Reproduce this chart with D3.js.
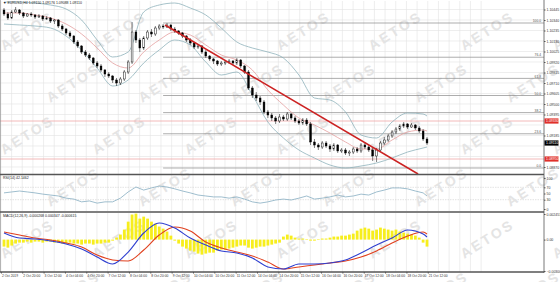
<!DOCTYPE html>
<html>
<head>
<meta charset="utf-8">
<script src="https://cdn.jsdelivr.net/npm/d3@7"></script>
<style>
  body { margin: 0; background: #fff; }
  svg { display: block; font-family: "Liberation Sans", Arial, sans-serif; }
</style>
</head>
<body>
<div id="chart"></div>
<script>
// EURUSD H4 candles: [open, high, low, close]
var candles = [
  [1.1044,1.1046,1.1038,1.1040],[1.1040,1.1042,1.1034,1.1036],[1.1036,1.1044,1.1035,1.1042],[1.1042,1.1047,1.1041,1.1044],
  [1.1044,1.1045,1.1039,1.1041],[1.1041,1.1042,1.1036,1.1038],[1.1038,1.1041,1.1037,1.1040],[1.1040,1.1042,1.1037,1.1039],
  [1.1039,1.1040,1.1035,1.1037],[1.1037,1.1040,1.1036,1.1038],[1.1038,1.1039,1.1033,1.1035],[1.1035,1.1038,1.1034,1.1036],
  [1.1036,1.1037,1.1031,1.1033],[1.1033,1.1035,1.1030,1.1034],[1.1034,1.1035,1.1026,1.1028],[1.1028,1.1030,1.1023,1.1025],
  [1.1025,1.1026,1.1019,1.1021],[1.1021,1.1023,1.1016,1.1018],[1.1018,1.1019,1.1010,1.1012],[1.1012,1.1014,1.1006,1.1008],
  [1.1008,1.1009,1.1000,1.1002],[1.1002,1.1004,1.0997,1.0999],[1.0999,1.1001,1.0994,1.0996],[1.0996,1.0997,1.0989,1.0991],
  [1.0991,1.0993,1.0986,1.0988],[1.0988,1.0990,1.0982,1.0984],[1.0984,1.0985,1.0977,1.0980],[1.0980,1.0982,1.0976,1.0978],
  [1.0978,1.0979,1.0971,1.0974],[1.0974,1.0976,1.0968,1.0971],[1.0971,1.0977,1.0969,1.0975],[1.0975,1.0984,1.0973,1.0982],
  [1.0982,1.0994,1.0980,1.0992],[1.0992,1.1032,1.0990,1.1022],[1.1022,1.1024,1.1011,1.1014],[1.1014,1.1016,1.1002,1.1006],
  [1.1006,1.1018,1.1004,1.1016],[1.1016,1.1024,1.1014,1.1022],[1.1022,1.1025,1.1017,1.1020],[1.1020,1.1028,1.1018,1.1026],
  [1.1026,1.1030,1.1024,1.1028],[1.1028,1.1030,1.1025,1.1027],[1.1027,1.1031,1.1026,1.1029],[1.1029,1.1030,1.1023,1.1025],
  [1.1025,1.1027,1.1021,1.1023],[1.1023,1.1024,1.1019,1.1021],[1.1021,1.1022,1.1016,1.1018],[1.1018,1.1019,1.1012,1.1014],
  [1.1014,1.1016,1.1009,1.1011],[1.1011,1.1012,1.1005,1.1007],[1.1007,1.1010,1.1005,1.1008],[1.1008,1.1009,1.1000,1.1002],
  [1.1002,1.1004,1.0996,1.0998],[1.0998,1.0999,1.0993,1.0995],[1.0995,1.0996,1.0990,1.0993],[1.0993,1.0994,1.0988,1.0990],
  [1.0990,1.0993,1.0988,1.0991],[1.0991,1.0994,1.0989,1.0992],[1.0992,1.0995,1.0990,1.0993],[1.0993,1.0994,1.0989,1.0991],
  [1.0991,1.0996,1.0989,1.0994],[1.0994,1.0995,1.0986,1.0988],[1.0988,1.0989,1.0980,1.0982],[1.0982,1.0984,1.0964,1.0966],
  [1.0966,1.0968,1.0956,1.0959],[1.0959,1.0962,1.0953,1.0956],[1.0956,1.0958,1.0949,1.0952],[1.0952,1.0954,1.0940,1.0942],
  [1.0942,1.0944,1.0936,1.0939],[1.0939,1.0941,1.0933,1.0936],[1.0936,1.0938,1.0930,1.0933],[1.0933,1.0940,1.0931,1.0937],
  [1.0937,1.0939,1.0933,1.0935],[1.0935,1.0942,1.0933,1.0940],[1.0940,1.0941,1.0934,1.0936],[1.0936,1.0938,1.0931,1.0933],
  [1.0933,1.0935,1.0929,1.0931],[1.0931,1.0936,1.0929,1.0934],[1.0934,1.0936,1.0928,1.0930],[1.0930,1.0932,1.0909,1.0912],
  [1.0912,1.0915,1.0906,1.0909],[1.0909,1.0911,1.0904,1.0907],[1.0907,1.0913,1.0905,1.0911],[1.0911,1.0913,1.0906,1.0908],
  [1.0908,1.0910,1.0902,1.0905],[1.0905,1.0911,1.0903,1.0909],[1.0909,1.0910,1.0901,1.0903],[1.0903,1.0906,1.0901,1.0904],
  [1.0904,1.0906,1.0899,1.0901],[1.0901,1.0904,1.0898,1.0902],[1.0902,1.0907,1.0900,1.0905],[1.0905,1.0907,1.0901,1.0903],
  [1.0903,1.0911,1.0901,1.0909],[1.0909,1.0912,1.0905,1.0907],[1.0907,1.0909,1.0902,1.0904],[1.0904,1.0906,1.0893,1.0898],
  [1.0898,1.0906,1.0892,1.0904],[1.0904,1.0913,1.0902,1.0911],[1.0911,1.0917,1.0909,1.0914],[1.0914,1.0920,1.0912,1.0918],
  [1.0918,1.0924,1.0916,1.0922],[1.0922,1.0927,1.0920,1.0925],[1.0925,1.0930,1.0923,1.0928],[1.0928,1.0932,1.0926,1.0930],
  [1.0930,1.0931,1.0925,1.0927],[1.0927,1.0931,1.0926,1.0929],[1.0929,1.0930,1.0924,1.0926],[1.0926,1.0928,1.0921,1.0923],
  [1.0923,1.0925,1.0913,1.0915],[1.0915,1.0917,1.0909,1.0911]
];

// Bollinger bands, read every 4th bar
var bbIdx = [0,4,8,12,16,20,24,28,32,36,40,44,48,52,56,60,64,68,72,76,80,84,88,92,96,100,104,108,109];
var bbUpper = [1.1052,1.1052,1.1051,1.1049,1.1045,1.1034,1.1014,1.0997,1.1002,1.1042,1.1049,1.1051,1.1046,1.1039,1.1026,1.1012,1.1006,1.1002,1.0996,1.0979,1.0956,1.0954,1.0942,1.0919,1.0916,1.0932,1.0941,1.0940,1.0938];
var bbMiddle = [1.1041,1.1041,1.1039,1.1036,1.1030,1.1020,1.1006,1.0991,1.0986,1.1002,1.1014,1.1022,1.1019,1.1009,1.0999,1.0994,1.0984,1.0964,1.0949,1.0936,1.0929,1.0921,1.0912,1.0905,1.0905,1.0914,1.0922,1.0924,1.0923];
var bbLower = [1.1030,1.1029,1.1028,1.1026,1.1018,1.1004,1.0986,1.0968,1.0974,1.0991,1.1004,1.1014,1.1009,1.0992,1.0979,1.0982,1.0959,1.0932,1.0916,1.0904,1.0896,1.0889,1.0886,1.0888,1.0891,1.0896,1.0902,1.0906,1.0907];

// trend line and fibonacci retracement
var trendLine = [[41.5, 1.1029], [106.7, 1.0880]];
var fibStart = 41;
var fibHigh = 1.1031, fibLow = 1.0886;
var fibLevels = [0, 23.6, 38.2, 50.0, 61.8, 76.4, 100.0];
var levelLines = [1.0933, 1.0895];

var priceTicks = [1.10445,1.10340,1.10235,1.10130,1.10025,1.09920,1.09815,1.09710,1.09605,1.09500,1.09395,1.09290,1.09185,1.09080,1.08975,1.08870];

// RSI(14), every 2nd bar
var rsiIdx = [0,2,4,6,8,10,12,14,16,18,20,22,24,26,28,30,32,34,36,38,40,42,44,46,48,50,52,54,56,58,60,62,64,66,68,70,72,74,76,78,80,82,84,86,88,90,92,94,96,98,100,102,104,106,108,109];
var rsiValues = [52,55,58,55,52,48,45,42,35,32,23,26,19,23,23,35,55,71,61,68,74,71,65,58,52,45,42,39,39,35,39,32,23,19,23,29,32,29,35,42,32,35,39,45,39,42,48,45,55,61,68,68,65,58,52,42];
var rsiTicks = [0, 30, 50, 70, 100];

// MACD histogram per bar, lines every 4th bar
var macdHist = [
  -0.00067,-0.00077,-0.00057,-0.00038,-0.00029,-0.00029,-0.00019,-0.00029,-0.00019,-0.00019,
  -0.00029,-0.00019,-0.00019,-0.00029,-0.00029,-0.00038,-0.00038,-0.00029,-0.00038,-0.00038,
  -0.00048,-0.00038,-0.00038,-0.00048,-0.00038,-0.00038,-0.00029,-0.00029,-0.00010,0.00019,
  0.00048,0.00096,0.00172,0.00240,0.00249,0.00201,0.00220,0.00201,0.00172,0.00153,
  0.00125,0.00105,0.00077,0.00038,-0.00010,-0.00038,-0.00067,-0.00086,-0.00105,-0.00115,
  -0.00134,-0.00144,-0.00134,-0.00125,-0.00125,-0.00105,-0.00096,-0.00096,-0.00086,-0.00077,
  -0.00067,-0.00057,-0.00057,-0.00077,-0.00086,-0.00077,-0.00067,-0.00067,-0.00057,-0.00048,
  -0.00038,-0.00029,0.00029,0.00048,0.00038,0.00019,0.00010,0.00010,0.00005,-0.00010,
  -0.00010,0.00005,0.00010,0.00010,0.00019,0.00029,0.00029,0.00038,0.00038,0.00048,
  0.00057,0.00086,0.00105,0.00115,0.00105,0.00086,0.00096,0.00115,0.00105,0.00096,
  0.00086,0.00096,0.00077,0.00067,0.00057,0.00048,0.00038,0.00019,-0.00029,-0.00067
];
var macdIdx = bbIdx;
var macdBlue = [0.00063,0.00015,0.00006,-0.00013,-0.00042,-0.00090,-0.00167,-0.00234,-0.00119,0.00063,0.00159,0.00111,0.00015,-0.00052,-0.00109,-0.00128,-0.00176,-0.00262,-0.00282,-0.00234,-0.00234,-0.00224,-0.00195,-0.00128,-0.00052,0.00015,0.00092,0.00054,0.00025];
var macdRed = [0.00073,0.00044,0.00015,-0.00004,-0.00033,-0.00071,-0.00148,-0.00195,-0.00205,-0.00100,0.00044,0.00121,0.00082,-0.00023,-0.00080,-0.00119,-0.00157,-0.00215,-0.00282,-0.00262,-0.00243,-0.00224,-0.00205,-0.00167,-0.00109,-0.00033,0.00034,0.00073,0.00054];
var macdTicks = [-0.003009, 0, 0.002453];

var timeLabels = ["2 Oct 2019","2 Oct 20:00","3 Oct 12:00","4 Oct 04:00","4 Oct 20:00","7 Oct 12:00","8 Oct 04:00",
  "8 Oct 20:00","9 Oct 12:00","10 Oct 04:00","10 Oct 20:00","11 Oct 12:00","14 Oct 04:00","14 Oct 20:00",
  "15 Oct 12:00","16 Oct 04:00","16 Oct 20:00","17 Oct 12:00","18 Oct 04:00","18 Oct 20:00","21 Oct 12:00"];

// layout
var svgWidth = 560, svgHeight = 282;
var plotRight = 544;
var mainTop = 1, mainBottom = 174;
var rsiTop = 175, rsiBottom = 211;
var macdTop = 213, macdBottom = 272;
var fs = 3.5;

var svg = d3.select("#chart").append("svg")
  .attr("width", svgWidth)
  .attr("height", svgHeight);

var x = d3.scaleLinear().domain([0, candles.length - 1]).range([4, 427]);
var yPrice = d3.scaleLinear().domain([1.0880, 1.1052]).range([mainBottom, 2]);
var yRsi = d3.scaleLinear().domain([0, 100]).range([209, 178]);
var yMacd = d3.scaleLinear().domain([-0.003009, 0.002453]).range([271, 214]);

var defs = svg.append("defs");
[["clipMain", mainTop, mainBottom], ["clipRsi", rsiTop, rsiBottom], ["clipMacd", macdTop, macdBottom]].forEach(function(c) {
  defs.append("clipPath").attr("id", c[0]).append("rect")
    .attr("x", 0).attr("y", c[1]).attr("width", plotRight).attr("height", c[2] - c[1]);
});

// grid
var grid = svg.append("g").attr("stroke", "#e3e3e3").attr("stroke-width", 0.6);
var vGrid = d3.range(0, 2 * timeLabels.length + 4).map(k => k * 2.75 - 0.8);
vGrid.forEach(function(i) {
  var gx = x(i);
  if (gx > plotRight) return;
  [[mainTop, mainBottom], [rsiTop, rsiBottom], [macdTop, macdBottom]].forEach(function(p) {
    grid.append("line").attr("x1", gx).attr("x2", gx).attr("y1", p[0]).attr("y2", p[1]);
  });
});
priceTicks.forEach(function(v) {
  grid.append("line").attr("x1", 0).attr("x2", plotRight).attr("y1", yPrice(v)).attr("y2", yPrice(v));
});
[30, 70].forEach(function(v) {
  grid.append("line").attr("x1", 0).attr("x2", plotRight).attr("y1", yRsi(v)).attr("y2", yRsi(v))
    .attr("stroke", "#d0d0d0").attr("stroke-dasharray", "1.5,1");
});

// watermark
var wm = svg.append("g").attr("fill", "#e4e4e4").attr("font-size", 14).attr("font-weight", "bold")
  .attr("letter-spacing", 2.5).attr("text-anchor", "middle");
for (var r = 0; r < 6; r++) {
  for (var c = 0; c < 7; c++) {
    wm.append("text")
      .attr("transform", `translate(${30 + c * 92 + (r % 2) * 46}, ${35 + r * 52}) rotate(-32)`)
      .text("AETOS");
  }
}

// main panel
var mainG = svg.append("g").attr("clip-path", "url(#clipMain)");

// level lines
mainG.selectAll(".level").data(levelLines).enter().append("line")
  .attr("x1", 0).attr("x2", plotRight)
  .attr("y1", d => yPrice(d)).attr("y2", d => yPrice(d))
  .attr("stroke", "#f0a8a8").attr("stroke-width", 0.8);

// fibonacci
mainG.selectAll(".fib").data(fibLevels).enter().append("line")
  .attr("x1", x(fibStart)).attr("x2", plotRight)
  .attr("y1", d => yPrice(fibLow + (fibHigh - fibLow) * d / 100))
  .attr("y2", d => yPrice(fibLow + (fibHigh - fibLow) * d / 100))
  .attr("stroke", "#8a8a8a").attr("stroke-width", 0.7);
mainG.selectAll(".fibLabel").data(fibLevels).enter().append("text")
  .attr("x", plotRight - 3)
  .attr("y", d => yPrice(fibLow + (fibHigh - fibLow) * d / 100) - 0.8)
  .attr("text-anchor", "end").attr("font-size", 3.3).attr("fill", "#555")
  .text(d => d.toFixed(1));

// bollinger bands
var bandLine = d3.line()
  .x((d, k) => x(bbIdx[k]))
  .y(d => yPrice(d))
  .curve(d3.curveMonotoneX);
mainG.append("path").attr("d", bandLine(bbUpper)).attr("fill", "none").attr("stroke", "#8fb3bb").attr("stroke-width", 0.8);
mainG.append("path").attr("d", bandLine(bbLower)).attr("fill", "none").attr("stroke", "#8fb3bb").attr("stroke-width", 0.8);
mainG.append("path").attr("d", bandLine(bbMiddle)).attr("fill", "none").attr("stroke", "#e5a0a0").attr("stroke-width", 0.8);

// candles
var candleG = mainG.append("g");
candleG.selectAll(".wick").data(candles).enter().append("line")
  .attr("x1", (d, i) => x(i)).attr("x2", (d, i) => x(i))
  .attr("y1", d => yPrice(d[1])).attr("y2", d => yPrice(d[2]))
  .attr("stroke", "#000").attr("stroke-width", 0.5);
candleG.selectAll(".body").data(candles).enter().append("rect")
  .attr("x", (d, i) => x(i) - 0.9)
  .attr("width", 1.8)
  .attr("y", d => yPrice(Math.max(d[0], d[3])))
  .attr("height", d => Math.max(0.5, Math.abs(yPrice(d[0]) - yPrice(d[3]))))
  .attr("fill", d => d[3] >= d[0] ? "#fff" : "#000")
  .attr("stroke", "#000").attr("stroke-width", 0.45);

// trend line
mainG.append("line")
  .attr("x1", x(trendLine[0][0])).attr("y1", yPrice(trendLine[0][1]))
  .attr("x2", x(trendLine[1][0])).attr("y2", yPrice(trendLine[1][1]))
  .attr("stroke", "#cc2222").attr("stroke-width", 1.6);

// RSI panel
var rsiLine = d3.line().x((d, k) => x(rsiIdx[k])).y(d => yRsi(d));
svg.append("g").attr("clip-path", "url(#clipRsi)")
  .append("path").attr("d", rsiLine(rsiValues))
  .attr("fill", "none").attr("stroke", "#86adc2").attr("stroke-width", 0.8);

// MACD panel
var macdG = svg.append("g").attr("clip-path", "url(#clipMacd)");
macdG.selectAll(".hist").data(macdHist).enter().append("rect")
  .attr("x", (d, i) => x(i) - 1.4)
  .attr("width", 2.8)
  .attr("y", d => yMacd(Math.max(0, d)))
  .attr("height", d => Math.abs(yMacd(d) - yMacd(0)))
  .attr("fill", "#f7ee1c");
var macdLine = d3.line().x((d, k) => x(macdIdx[k])).y(d => yMacd(d)).curve(d3.curveMonotoneX);
macdG.append("path").attr("d", macdLine(macdRed)).attr("fill", "none").attr("stroke", "#e0401e").attr("stroke-width", 1.1);
macdG.append("path").attr("d", macdLine(macdBlue)).attr("fill", "none").attr("stroke", "#2f3fd0").attr("stroke-width", 1.1);

// panel frames
var frame = svg.append("g").attr("fill", "none");
frame.append("line").attr("x1", 0.5).attr("x2", 0.5).attr("y1", 0).attr("y2", macdBottom).attr("stroke", "#888").attr("stroke-width", 0.6);
frame.append("line").attr("x1", plotRight).attr("x2", plotRight).attr("y1", 0).attr("y2", macdBottom + 1).attr("stroke", "#555").attr("stroke-width", 0.8);
[mainBottom + 0.5, rsiBottom + 1, macdBottom].forEach(function(yy) {
  frame.append("line").attr("x1", 0).attr("x2", plotRight).attr("y1", yy).attr("y2", yy)
    .attr("stroke", "#555").attr("stroke-width", 1.6);
});

// price markers on axis (they cover the nearby tick labels)
var markers = levelLines.map(v => ({ v: v, color: "#e0302a" }))
  .concat([{ v: candles[candles.length - 1][3], color: "#000" }]);
var hidden = priceTicks.filter(t => markers.some(m => Math.abs(yPrice(t) - yPrice(m.v)) < 4.5));

// axes
var priceAxis = svg.append("g")
  .attr("transform", `translate(${plotRight}, 0)`)
  .call(d3.axisRight(yPrice).tickValues(priceTicks.filter(t => hidden.indexOf(t) < 0))
    .tickSize(1.5).tickFormat(d3.format(".5f")));
var rsiAxis = svg.append("g")
  .attr("transform", `translate(${plotRight}, 0)`)
  .call(d3.axisRight(yRsi).tickValues(rsiTicks).tickSize(1.5).tickFormat(d3.format("d")));
var macdAxis = svg.append("g")
  .attr("transform", `translate(${plotRight}, 0)`)
  .call(d3.axisRight(yMacd).tickValues(macdTicks).tickSize(1.5).tickFormat(d => d === 0 ? "0.00" : d3.format(".6f")(d)));
[priceAxis, rsiAxis, macdAxis].forEach(function(a) {
  a.select(".domain").remove();
  a.selectAll("text").attr("font-size", fs).attr("fill", "#333").attr("x", 2.5);
  a.selectAll("line").attr("stroke", "#555");
});

var markG = svg.selectAll(".marker").data(markers).enter().append("g")
  .attr("transform", d => `translate(${plotRight}, ${yPrice(d.v)})`);
markG.append("rect").attr("x", 0.5).attr("y", -2.6).attr("width", 14).attr("height", 5.2).attr("fill", d => d.color);
markG.append("text").attr("x", 2).attr("y", 1.3).attr("font-size", fs).attr("fill", "#fff")
  .text(d => d3.format(".5f")(d.v));

// time axis
var timeAxis = svg.append("g")
  .attr("transform", `translate(0, ${macdBottom})`)
  .call(d3.axisBottom(x).tickValues(timeLabels.map((t, k) => k * 5.5 - 0.8)).tickSize(1.5)
    .tickFormat((d, k) => timeLabels[k]));
timeAxis.select(".domain").remove();
timeAxis.selectAll("line").attr("stroke", "#555");
timeAxis.selectAll("text").attr("font-size", 3.3).attr("fill", "#333")
  .attr("text-anchor", "start").attr("dx", 0.5).attr("y", 3);

// panel titles
var titles = [
  ["\u25BC EURUSD,H4  1.09150 1.09176 1.09088 1.09110", 4.2],
  ["RSI(14) 42.1462", rsiTop + 4.2],
  ["MACD(12,26,9) -0.000268 0.000347 -0.000615", macdTop + 4.2]
];
svg.selectAll(".title").data(titles).enter().append("text")
  .attr("x", 3).attr("y", d => d[1])
  .attr("font-size", 3.5).attr("fill", "#222")
  .text(d => d[0]);
</script>
</body>
</html>
